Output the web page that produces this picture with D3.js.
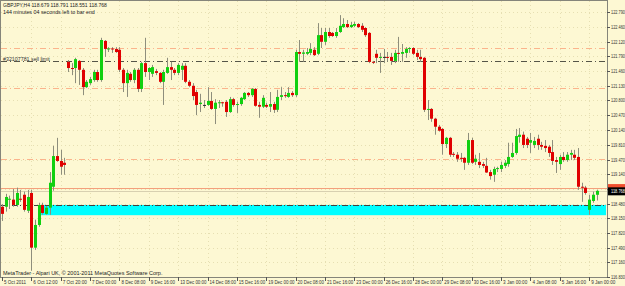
<!DOCTYPE html>
<html>
<head>
<meta charset="utf-8">
<style>
body { margin:0; background:#fdf8d3; }
text { font-family:"Liberation Sans", Arial, sans-serif; }
</style>
</head>
<body>
<script src="https://d3js.org/d3.v7.min.js"></script>
<script>
// DATA - H4 candles, [open, high, low, close]
var ohlc = [
  [118.41,118.47,118.09,118.25],[118.41,118.70,118.30,118.63],[118.57,118.66,118.36,118.59],[118.57,118.81,118.41,118.45],
  [118.45,118.84,118.41,118.72],[118.59,118.79,118.52,118.57],[118.68,118.75,118.30,118.34],[118.32,118.79,118.27,118.63],
  [118.72,118.79,116.97,117.49],[117.49,118.12,117.44,118.00],[118.00,118.50,117.96,118.45],[118.45,118.50,118.23,118.27],
  [118.25,118.43,118.23,118.39],[118.39,119.19,118.23,118.95],[118.86,119.78,118.77,119.55],[119.55,119.96,119.42,119.44],
  [119.44,119.69,119.13,119.31],[119.40,119.51,119.13,119.35],
  [121.67,121.71,121.44,121.53],[121.53,121.64,121.37,121.51],[121.53,121.76,121.19,121.73],[121.69,121.71,121.15,121.49],
  [121.49,121.53,120.92,121.10],[121.10,121.26,121.08,121.22],[121.19,121.33,121.15,121.28],[121.26,121.49,121.22,121.44],
  [121.44,121.49,121.22,121.26],[121.26,122.21,121.22,122.16],[122.14,122.16,121.78,121.96],[121.96,122.00,121.89,121.97],
  [121.97,122.00,121.87,121.95],[121.96,122.00,121.87,121.89],[121.94,122.00,121.44,121.49],[121.49,121.53,120.99,121.19],
  [121.19,121.49,120.88,121.42],[121.40,121.44,121.22,121.26],[121.26,121.53,121.19,121.49],[121.49,121.53,120.99,121.06],
  [121.06,121.67,120.99,121.64],[121.64,122.21,121.33,121.44],[121.44,121.55,121.26,121.53],[121.40,121.60,121.33,121.55],
  [121.46,121.51,121.37,121.42],[121.42,121.44,121.19,121.22],[121.22,121.49,120.70,121.44],[121.42,121.76,121.40,121.55],
  [121.55,121.67,121.26,121.49],[121.49,121.53,121.37,121.42],[121.42,121.64,121.37,121.60],[121.49,121.64,121.26,121.58],
  [121.58,121.64,121.19,121.22],[121.22,121.26,121.10,121.13],[121.13,121.19,120.81,120.90],[120.99,121.04,120.47,120.70],
  [120.72,120.95,120.54,120.75],[120.70,120.81,120.63,120.70],[120.70,121.10,120.68,120.79],[120.79,120.99,120.59,120.61],
  [120.61,120.83,120.27,120.75],[120.75,120.81,120.63,120.76],[120.76,120.77,120.66,120.74],[120.77,120.81,120.43,120.54],
  [120.54,120.88,120.52,120.83],[120.83,120.86,120.66,120.70],[120.70,120.77,120.52,120.72],[120.72,120.88,120.68,120.86],
  [120.83,120.99,120.81,120.97],[120.97,120.99,120.88,120.92],[120.92,121.08,120.88,121.06],[121.06,121.08,120.66,120.68],
  [120.70,120.77,120.41,120.66],[120.66,120.92,120.63,120.86],[120.70,120.75,120.63,120.66],[120.66,120.99,120.54,120.72],
  [120.72,120.77,120.52,120.59],[120.59,121.04,120.54,120.88],[120.88,121.10,120.81,120.92],[120.92,120.99,120.86,120.90],
  [120.88,121.10,120.86,120.97],[120.97,121.01,120.88,120.92],[120.92,121.94,120.88,121.89],[121.89,122.16,121.67,121.85],
  [121.85,121.94,121.67,121.88],[121.85,121.98,121.82,121.89],[121.87,122.09,121.82,121.96],[121.94,122.00,121.80,121.82],
  [121.85,122.54,121.82,122.27],[122.27,122.43,121.98,122.12],[122.12,122.43,122.05,122.34],[122.34,122.43,122.21,122.25],
  [122.32,122.34,122.23,122.25],[122.25,122.43,122.21,122.34],[122.34,122.72,122.32,122.48],[122.45,122.65,122.43,122.52],
  [122.52,122.61,122.43,122.45],[122.45,122.57,122.43,122.50],[122.48,122.57,122.45,122.52],[122.52,122.54,122.43,122.45],
  [122.48,122.54,122.34,122.39],[122.43,122.45,122.23,122.27],[122.32,122.34,121.64,121.67],[121.67,121.69,121.62,121.66],
  [121.85,121.94,121.64,121.76],[121.76,121.87,121.42,121.78],[121.78,121.96,121.64,121.78],[121.78,121.89,121.67,121.77],
  [121.78,121.87,121.60,121.69],[121.69,121.94,121.64,121.87],[121.87,122.23,121.67,121.85],[121.85,122.07,121.67,121.89],
  [121.87,122.00,121.76,121.96],[121.96,122.00,121.87,121.98],[121.98,122.00,121.82,121.85],[121.87,121.94,121.71,121.78],
  [121.78,121.94,121.67,121.73],[121.76,121.78,120.54,120.59],[120.59,120.81,120.36,120.61],[120.61,120.63,120.32,120.39],
  [120.39,120.41,120.03,120.21],[120.21,120.25,120.10,120.12],[120.16,120.18,119.58,119.82],[119.82,119.98,119.73,119.96],
  [119.96,119.98,119.53,119.58],[119.60,119.64,119.53,119.59],[119.58,119.64,119.42,119.49],[119.51,119.62,119.42,119.50],
  [119.51,119.53,119.24,119.40],[119.40,120.07,119.35,119.91],[119.91,119.96,119.37,119.40],[119.42,119.58,119.35,119.49],
  [119.42,119.62,119.28,119.35],[119.37,119.42,119.28,119.33],[119.33,119.51,119.17,119.18],[119.19,119.24,119.02,119.10],
  [119.13,119.31,118.97,119.26],[119.26,119.31,119.19,119.28],[119.26,119.42,119.19,119.35],[119.33,119.46,119.28,119.40],
  [119.37,119.85,119.31,119.53],[119.53,119.85,119.51,119.62],[119.62,120.16,119.58,120.00],[119.98,120.18,119.85,120.03],
  [120.03,120.10,119.73,119.80],[119.94,119.98,119.73,119.80],[119.85,120.07,119.62,119.91],[119.80,119.98,119.73,119.89],
  [119.94,120.03,119.69,119.80],[119.80,119.87,119.69,119.76],[119.78,119.91,119.64,119.73],[119.76,119.80,119.53,119.62],
  [119.64,119.91,119.35,119.44],[119.46,119.53,119.17,119.42],[119.37,119.58,119.24,119.53],[119.53,119.64,119.42,119.46],
  [119.46,119.64,119.42,119.58],[119.58,119.69,119.46,119.62],[119.58,119.69,119.46,119.51],[119.53,119.73,118.79,118.86],
  [118.86,118.95,118.52,118.84],[118.84,118.88,118.68,118.72],[118.34,118.68,118.23,118.57],[118.54,118.75,118.50,118.68],
  [118.679,118.791,118.551,118.768]
];

// DATA - price axis ticks
var priceTicks = [122.79,122.46,122.12,121.79,121.46,121.13,120.80,120.47,120.14,119.81,119.47,119.14,118.81,118.48,118.15,117.82,117.49,117.16,116.83];

// DATA - time axis labels, one every 8 bars
var timeLabels = ["5 Oct 2011","6 Oct 12:00","7 Oct 20:00","7 Dec 00:00","8 Dec 08:00","9 Dec 16:00","13 Dec 00:00","14 Dec 08:00",
  "15 Dec 16:00","19 Dec 00:00","20 Dec 08:00","21 Dec 16:00","23 Dec 00:00","26 Dec 16:00","28 Dec 00:00","29 Dec 08:00",
  "30 Dec 16:00","3 Jan 00:00","4 Jan 08:00","5 Jan 16:00","9 Jan 00:00"];
var labelStep = 8;

// DATA - objects on the chart
var orangeLevels = [121.99, 121.09, 119.49];
var sellLimit = 121.68;
var sellLimitText = "#32107781 sell limit";
var askPrice = 118.83;
var bidPrice = 118.768;
var zone = {from:10.6, to:164.6, top:118.45, bottom:118.22};
var headerText = ["GBPJPY,H4  118.679 118.791 118.551 118.768", "144 minutes 04 seconds left to bar end"];
var footerText = "MetaTrader - Alpari UK, \u00a9 2001-2011 MetaQuotes Software Corp.";

var W = 625, H = 286, plotRight = 607, plotBottom = 277;

var svg = d3.select("body").append("svg")
  .attr("width", W).attr("height", H)
  .style("display", "block")
  .style("background-color", "#fdf8d3");

var x = d3.scaleLinear().domain([0, ohlc.length - 1]).range([2, 596.5]);
var y = d3.scaleLinear().domain([116.83, 122.79]).range([277, 12]);
function px(i) { return Math.round(x(i)) + 0.5; }
function py(p) { return Math.round(y(p)) + 0.5; }

//FUNCTION: small MT4-like text, squeezed sideways to a given width
function addText(g, tx, ty, str, size, width, color)
{
  var t = g.append("text")
    .attr("font-size", size)
    .style("fill", color)
    .text(str);
  var s = width / t.node().getComputedTextLength();
  t.attr("transform", "translate(" + tx + "," + ty + ") scale(" + s + ",1)");
  return t;
}

//grid dots
var tickIdx = timeLabels.map(function(d, k){ return k * labelStep; });
svg.append("g").selectAll("line").data(priceTicks).enter().append("line")
  .attr("x1", 1).attr("x2", plotRight).attr("y1", py).attr("y2", py)
  .style("stroke", "#e6dfb2").style("stroke-dasharray", "1,3");
svg.append("g").selectAll("line").data(tickIdx.slice(1)).enter().append("line")
  .attr("x1", px).attr("x2", px).attr("y1", 1).attr("y2", plotBottom)
  .style("stroke", "#e6dfb2").style("stroke-dasharray", "1,3");

//cyan zone + its dash-dot top edge
svg.append("rect")
  .attr("x", x(zone.from)).attr("width", x(zone.to) - x(zone.from))
  .attr("y", y(zone.top)).attr("height", y(zone.bottom) - y(zone.top))
  .style("fill", "#00ffff");
svg.append("line")
  .attr("x1", 1).attr("x2", x(zone.to)).attr("y1", py(zone.top)).attr("y2", py(zone.top))
  .style("stroke", "#404040").style("stroke-dasharray", "6,2,1,2");

//orange dash-dot levels
svg.append("g").selectAll("line").data(orangeLevels).enter().append("line")
  .attr("x1", 1).attr("x2", plotRight).attr("y1", py).attr("y2", py)
  .style("stroke", "#fbb48c").style("stroke-dasharray", "6,3,1,3");

//sell limit line and label
svg.append("line")
  .attr("x1", 1).attr("x2", plotRight).attr("y1", py(sellLimit)).attr("y2", py(sellLimit))
  .style("stroke", "#555548").style("stroke-dasharray", "6,3,1,3");
addText(svg, 3, py(sellLimit) - 1, sellLimitText, 5.5, 47, "#333");

//ask and bid lines
svg.append("line")
  .attr("x1", 1).attr("x2", plotRight).attr("y1", py(askPrice)).attr("y2", py(askPrice))
  .style("stroke", "#f4a07c");
svg.append("line")
  .attr("x1", 1).attr("x2", plotRight).attr("y1", py(bidPrice)).attr("y2", py(bidPrice))
  .style("stroke", "#d8d0b0");

//candles
var candle = svg.append("g").selectAll("g").data(ohlc).enter().append("g");
candle.append("line")
  .attr("x1", function(d, i){ return px(i); }).attr("x2", function(d, i){ return px(i); })
  .attr("y1", function(d){ return y(d[1]); }).attr("y2", function(d){ return y(d[2]); })
  .style("stroke", "#8e8e7c");
candle.append("rect")
  .attr("x", function(d, i){ return Math.round(x(i)) - 1; })
  .attr("width", 3)
  .attr("y", function(d){ return y(Math.max(d[0], d[3])); })
  .attr("height", function(d){ return Math.max(1, Math.abs(y(d[0]) - y(d[3]))); })
  .style("fill", function(d){
    if (Math.abs(d[0] - d[3]) < 0.005) return "#303030";
    return d[3] > d[0] ? "#10d010" : "#e00000";
  });

//frame and price axis
svg.append("rect").attr("x", 0.5).attr("y", 0.5).attr("width", plotRight).attr("height", plotBottom)
  .style("fill", "none").style("stroke", "#85857a");
svg.append("g").selectAll("line").data(priceTicks).enter().append("line")
  .attr("x1", plotRight).attr("x2", plotRight + 3).attr("y1", py).attr("y2", py)
  .style("stroke", "#555");
var priceAxis = svg.append("g");
priceTicks.forEach(function(d){
  if (Math.abs(y(d) - y(bidPrice)) < 6) return; // hidden behind the bid box
  addText(priceAxis, plotRight + 4, y(d) + 2, d.toFixed(3), 5.8, 14, "#333");
});

//ask / bid price boxes
svg.append("rect").attr("x", plotRight + 1).attr("y", y(askPrice) - 4).attr("width", 18).attr("height", 7)
  .style("fill", "#f05030");
svg.append("rect").attr("x", plotRight + 1).attr("y", y(bidPrice) - 3.5).attr("width", 18).attr("height", 8)
  .style("fill", "#000");
addText(svg, plotRight + 4, y(bidPrice) + 2.5, bidPrice.toFixed(3), 5.8, 14, "#fff");

//time axis
svg.append("g").selectAll("line").data(tickIdx).enter().append("line")
  .attr("x1", px).attr("x2", px).attr("y1", plotBottom).attr("y2", plotBottom + 4)
  .style("stroke", "#555");
var timeAxis = svg.append("g");
timeLabels.forEach(function(d, k){
  addText(timeAxis, x(k * labelStep) + 2, 284, d, 5.5, d.length * 2.2, "#333");
});

//header and footer
headerText.forEach(function(d, k){
  addText(svg, 3, 7 + k * 7, d, 5.8, k == 0 ? 104 : 92, "#222");
});
addText(svg, 3, 275, footerText, 5.8, 160, "#222");
</script>
</body>
</html>
